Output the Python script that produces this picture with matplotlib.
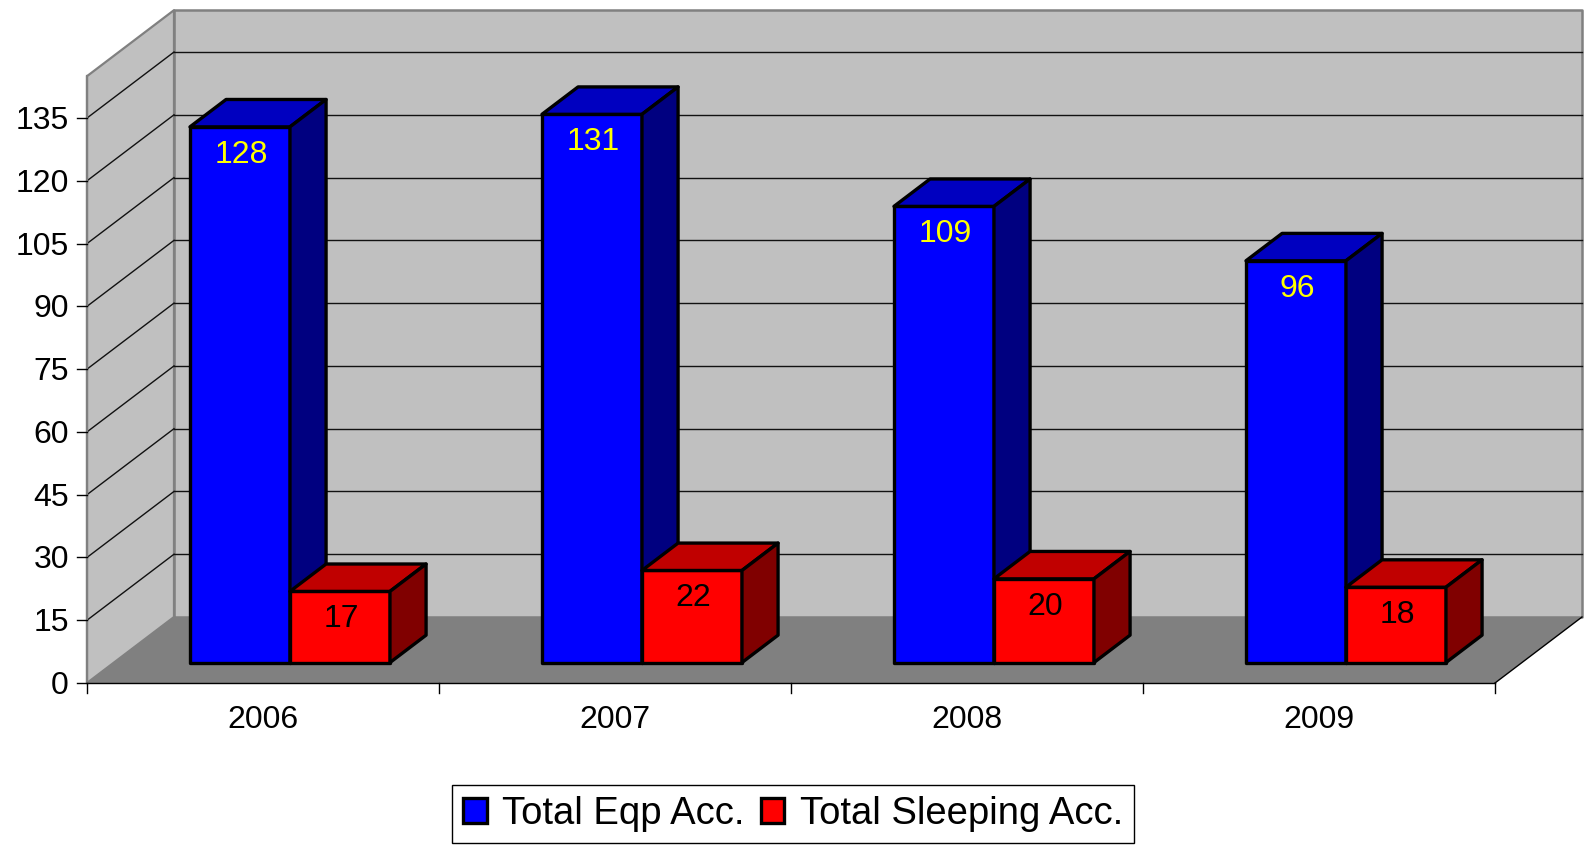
import matplotlib
matplotlib.use("Agg")
import matplotlib.pyplot as plt
from matplotlib.patches import Polygon

plt.rcParams['font.family'] = ['Liberation Sans', 'DejaVu Sans']

# ---------------- data ----------------
categories = ['2006', '2007', '2008', '2009']
eqp_acc = [128, 131, 109, 96]
sleeping_acc = [17, 22, 20, 18]
series_names = ['Total Eqp Acc.', 'Total Sleeping Acc.']
y_ticks = list(range(0, 136, 15))

# ---------------- geometry (pixel based scale) ----------------
W, H = 1586, 850
X0_PX, CAT_PX = 87, 352        # front-left corner x, pixels per category
Y0_PX, UNIT_PX = 683, 4.185    # value 0 row (from top), pixels per unit

fig = plt.figure(figsize=(W / 100, H / 100), dpi=100)
fig.patch.set_facecolor('white')
ax = fig.add_axes([0, 0, 1, 1])
ax.set_xlim(-X0_PX / CAT_PX, (W - X0_PX) / CAT_PX)
ax.set_ylim((Y0_PX - H) / UNIT_PX, Y0_PX / UNIT_PX)
ax.set_autoscale_on(False)
ax.axis('off')

px_x = 1 / CAT_PX
px_y = 1 / UNIT_PX
n = len(categories)
DX = 87 * px_x           # full depth offset in x
DV = 66 * px_y           # full depth offset in value units
WALL_TOP = 145

WALL_C = '#C0C0C0'
FLOOR_C = '#808080'
EDGE_C = '#808080'
FS = 23

# walls
ax.add_patch(Polygon([(DX, DV), (n + DX, DV), (n + DX, WALL_TOP + DV), (DX, WALL_TOP + DV)],
                     closed=True, fc=WALL_C, ec=EDGE_C, lw=1.8, zorder=1, joinstyle='round'))
ax.add_patch(Polygon([(0, 0), (0, WALL_TOP), (DX, WALL_TOP + DV), (DX, DV)],
                     closed=True, fc=WALL_C, ec=EDGE_C, lw=1.6, zorder=1, joinstyle='round'))

# gridlines
for v in y_ticks[1:]:
    ax.plot([DX, n + DX], [v + DV, v + DV], color='#111111', lw=1.0, zorder=1.5)
    ax.plot([0, DX], [v, v + DV], color='#111111', lw=1.0, zorder=1.5)

# floor
ax.add_patch(Polygon([(0, 0), (n, 0), (n + DX, DV), (DX, DV)],
                     closed=True, fc=FLOOR_C, ec='none', zorder=2))
ax.plot([n, n + DX], [0, DV], color='black', lw=1.0, zorder=2.1)
ax.plot([0, n], [0, 0], color='black', lw=1.0, zorder=2.1)
ax.plot([0, 0], [0, WALL_TOP], color=EDGE_C, lw=1.6, zorder=2.1)

# category ticks and labels
for i in range(n + 1):
    ax.plot([i, i], [0, -10 * px_y], color='black', lw=1.0, zorder=2.1)
for i, c in enumerate(categories):
    ax.text(i + 0.5, -(728 - Y0_PX) * px_y, c, ha='center', va='baseline',
            fontsize=FS, color='black')

# value ticks and labels
for v in y_ticks:
    ax.plot([-10 * px_x, 0], [v, v], color='black', lw=1.0, zorder=2.1)
    ax.text(-18 * px_x, v - 11 * px_y, str(v), ha='right', va='baseline',
            fontsize=FS, color='black')

# ---------------- 3D bars ----------------
F0 = 0.31     # depth fraction of bar front plane
FD = 0.415    # depth fraction of bar thickness
bw = 100 * px_x
base = F0 * DV
centers = [i + 0.5 + F0 * DX for i in range(n)]
blue_left = [c - bw for c in centers]
red_left = [c for c in centers]

series = [
    (blue_left, eqp_acc, '#0000FF', '#0000C0', '#000080', '#FFFF00', 3),
    (red_left, sleeping_acc, '#FF0000', '#C00000', '#800000', 'black', 4),
]
LW = 2.4
containers = []
for lefts, vals, front_c, top_c, side_c, txt_c, z in series:
    cont = ax.bar(lefts, vals, width=bw, bottom=base, align='edge',
                  color=front_c, edgecolor='black', linewidth=LW, zorder=z)
    for p in cont.patches:
        p.set_joinstyle('round')
    containers.append(cont)
    ddx, ddv = FD * DX, FD * DV
    for xl, v in zip(lefts, vals):
        top = base + v
        ax.add_patch(Polygon([(xl, top), (xl + bw, top), (xl + bw + ddx, top + ddv), (xl + ddx, top + ddv)],
                             closed=True, fc=top_c, ec='black', lw=LW, zorder=z, joinstyle='round'))
        ax.add_patch(Polygon([(xl + bw, base), (xl + bw, top), (xl + bw + ddx, top + ddv), (xl + bw + ddx, base + ddv)],
                             closed=True, fc=side_c, ec='black', lw=LW, zorder=z, joinstyle='round'))
        ax.text(xl + bw / 2 + 1 * px_x, top - 36 * px_y, str(v), ha='center', va='baseline',
                fontsize=FS, color=txt_c, zorder=z + 0.5)

# legend
leg = ax.legend(containers, series_names, loc='center',
                bbox_to_anchor=(793 / W, 1 - 814 / H), bbox_transform=fig.transFigure,
                ncol=2, fontsize=27.5, frameon=True, fancybox=False, edgecolor='black',
                framealpha=1, handlelength=0.62, handleheight=0.65, handletextpad=0.4,
                columnspacing=0.42, borderpad=0.28, borderaxespad=0)
leg.get_frame().set_linewidth(1.0)

fig.savefig('out.png', dpi=100)
